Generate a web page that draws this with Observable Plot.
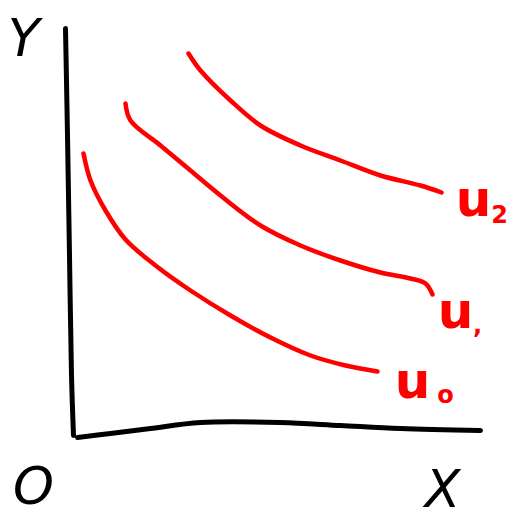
<!DOCTYPE html>
<html>
<head>
<meta charset="utf-8">
<script src="https://cdn.jsdelivr.net/npm/d3@7"></script>
<script src="https://cdn.jsdelivr.net/npm/@observablehq/plot@0.6"></script>
<style>
  html, body { margin: 0; padding: 0; background: #fff; }
</style>
</head>
<body>
<div id="chart"></div>
<script>
// Indifference curves sketch: quantity of X along the bottom, Y up the side.
// Coordinates are in sketch units with the origin at the corner of the axes.

const curveNames = ["u0", "u1", "u2"];

const u0x = [8, 15, 30, 50, 80, 115, 155, 195, 235, 270, 302];
const u0y = [282, 255, 225, 196, 170, 145, 120, 98, 80, 70, 64];

const u1x = [50, 55, 85, 115, 145, 185, 225, 265, 305, 335, 350, 357];
const u1y = [332, 315, 290, 265, 240, 210, 190, 175, 163, 157, 152, 141];

const u2x = [113, 125, 155, 185, 225, 265, 305, 345, 366];
const u2y = [382, 365, 335, 310, 290, 275, 260, 250, 243];

const yAxisX = [-10, -8, -6, -4, -2];
const yAxisY = [407, 300, 180, 60, 0];

const xAxisX = [2, 35, 75, 125, 205, 265, 325, 405];
const xAxisY = [-2, 2, 7, 13, 13, 10, 7, 5];

const curveLabels = ["u", "u", "u"];
const curveSubs = ["o", ",", "2"];
const labelX = [337, 380, 398];
const labelY = [54, 124, 236];
const subX = [370, 402, 424];
const subY = [40, 110, 220];

const toPoints = (xs, ys, name) => xs.map((x, i) => ({x, y: ys[i], name}));

const curves = [
  ...toPoints(u0x, u0y, curveNames[0]),
  ...toPoints(u1x, u1y, curveNames[1]),
  ...toPoints(u2x, u2y, curveNames[2])
];
const yAxis = toPoints(yAxisX, yAxisY, "Y");
const xAxis = toPoints(xAxisX, xAxisY, "X");
const labels = curveLabels.map((t, i) => ({x: labelX[i], y: labelY[i], t}));
const subs = curveSubs.map((t, i) => ({x: subX[i], y: subY[i], t}));

const axisNames = [
  {x: -52, y: 396, t: "Y"},
  {x: -42, y: -52, t: "O"},
  {x: 367, y: -55, t: "X"}
];

const chart = Plot.plot({
  width: 510,
  height: 519,
  margin: 0,
  x: {domain: [-75, 435], axis: null},
  y: {domain: [-84, 435], axis: null},
  marks: [
    Plot.line(yAxis, {x: "x", y: "y", stroke: "#000", strokeWidth: 5, curve: "catmull-rom", strokeLinecap: "round"}),
    Plot.line(xAxis, {x: "x", y: "y", stroke: "#000", strokeWidth: 5, curve: "catmull-rom", strokeLinecap: "round"}),
    Plot.line(curves, {x: "x", y: "y", z: "name", stroke: "#f00", strokeWidth: 4.5, curve: "catmull-rom", strokeLinecap: "round", strokeLinejoin: "round"}),
    Plot.text(axisNames, {x: "x", y: "y", text: "t", fontSize: 52, fill: "#000", fontFamily: "DejaVu Sans", fontStyle: "italic"}),
    Plot.text(labels, {x: "x", y: "y", text: "t", fontSize: 50, fill: "#f00", fontFamily: "DejaVu Sans", fontWeight: "bold"}),
    Plot.text(subs, {x: "x", y: "y", text: "t", fontSize: 24, fill: "#f00", fontFamily: "DejaVu Sans", fontWeight: "bold"})
  ]
});

document.getElementById("chart").append(chart);
</script>
</body>
</html>
